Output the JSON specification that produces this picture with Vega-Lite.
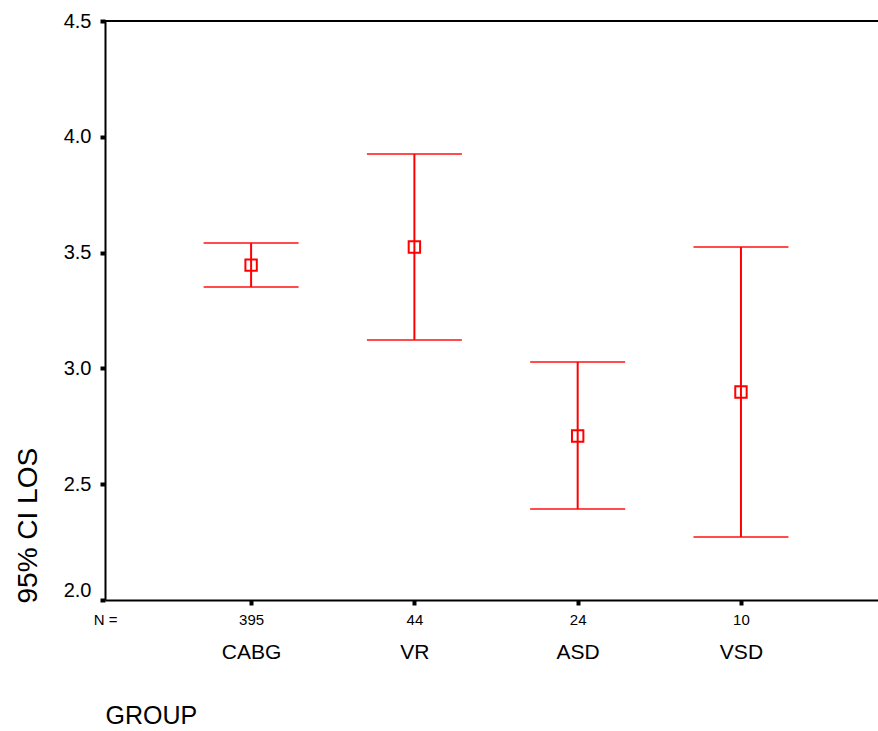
{
  "$schema": "https://vega.github.io/schema/vega-lite/v6.json",
  "autosize": {"type": "none"},
  "padding": {"left": 105, "top": 21, "right": 0, "bottom": 131},
  "width": 773,
  "height": 579,
  "background": "white",
  "config": {
    "font": "Liberation Sans",
    "view": {"stroke": null},
    "axis": {"grid": false, "labelColor": "black", "titleColor": "black", "labelFont": "Liberation Sans", "titleFont": "Liberation Sans", "titleFontWeight": "normal"}
  },
  "data": {
    "values": [
      {"group": "CABG", "n": 395, "lower": 3.351, "mean": 3.446, "upper": 3.541},
      {"group": "VR", "n": 44, "lower": 3.123, "mean": 3.524, "upper": 3.926},
      {"group": "ASD", "n": 24, "lower": 2.393, "mean": 2.708, "upper": 3.028},
      {"group": "VSD", "n": 10, "lower": 2.272, "mean": 2.898, "upper": 3.524}
    ]
  },
  "layer": [
    {
      "mark": {"type": "rule", "color": "black", "strokeWidth": 2},
      "encoding": {
        "y": {"datum": 4.5, "type": "quantitative", "scale": {"domain": [2, 4.5], "nice": false, "zero": false}, "title": "95% CI LOS"}
      }
    },
    {
      "encoding": {
        "x": {
          "field": "group", "type": "nominal", "sort": null,
          "scale": {"type": "point", "padding": 0.867, "align": 0.516},
          "axis": {
            "title": "GROUP", "orient": "bottom", "domain": false, "ticks": false,
            "labelFontSize": 21, "labelPadding": 41, "labelAngle": 0, "labelBaseline": "top",
            "titleFontSize": 25, "titleX": 0, "titleY": 103, "titleAlign": "left", "titleBaseline": "top"
          }
        }
      },
      "layer": [
        {
          "mark": {"type": "rule", "color": "#ff0000", "strokeWidth": 2},
          "encoding": {
            "y": {
              "field": "lower", "type": "quantitative",
              "scale": {"domain": [2, 4.5], "nice": false, "zero": false},
              "title": "95% CI LOS",
              "axis": {
                "title": "95% CI LOS", "values": [2, 2.5, 3, 3.5, 4, 4.5], "format": ".1f",
                "domainColor": "black", "domainWidth": 2, "tickColor": "black", "tickSize": 5, "tickWidth": 4,
                "labelFontSize": 20, "labelPadding": 9,
                "labelBaseline": {"condition": {"test": "datum.value == 2", "value": "bottom"}, "value": "middle"},
                "titleFontSize": 28, "titleX": -69, "titleY": 582, "titleAlign": "left", "titleAngle": -90, "titleBaseline": "alphabetic"
              }
            },
            "y2": {"field": "upper"}
          }
        },
        {
          "mark": {"type": "tick", "color": "#ff0000", "thickness": 2, "size": 95},
          "encoding": {
            "y": {"field": "lower", "type": "quantitative", "title": "95% CI LOS"}
          }
        },
        {
          "mark": {"type": "tick", "color": "#ff0000", "thickness": 2, "size": 95},
          "encoding": {
            "y": {"field": "upper", "type": "quantitative", "title": "95% CI LOS"}
          }
        }
      ]
    },
    {
      "mark": {"type": "point", "shape": "square", "size": 130, "filled": false, "stroke": "#ff0000", "strokeWidth": 2, "opacity": 1},
      "encoding": {
        "x": {
          "field": "n", "type": "ordinal", "sort": null,
          "scale": {"type": "point", "padding": 0.867, "align": 0.516},
          "axis": {
            "title": "N =", "orient": "bottom",
            "domainColor": "black", "domainWidth": 2, "tickColor": "black", "tickSize": 5, "tickWidth": 4,
            "labelFontSize": 15, "labelPadding": 7, "labelAngle": 0, "labelBaseline": "top",
            "titleFontSize": 15, "titleX": 0, "titleY": 12, "titleAlign": "center", "titleBaseline": "top"
          }
        },
        "y": {"field": "mean", "type": "quantitative", "title": "95% CI LOS"}
      }
    }
  ],
  "resolve": {"scale": {"x": "independent"}, "axis": {"x": "independent"}}
}
